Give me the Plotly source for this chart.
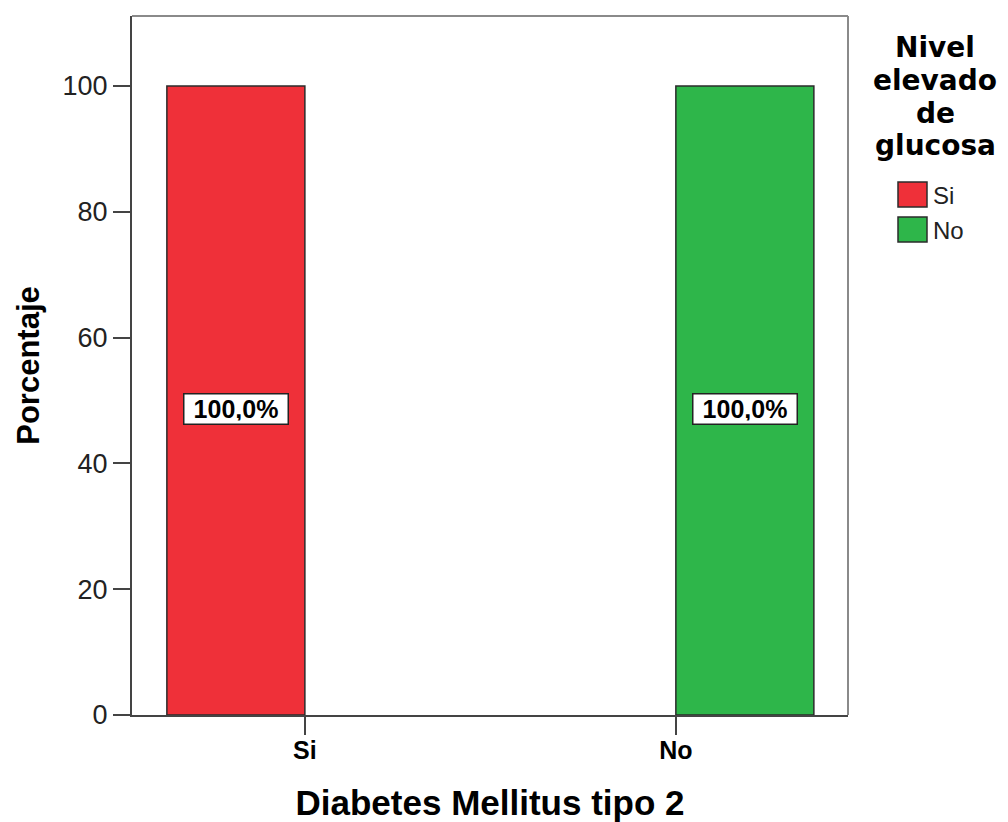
import plotly.graph_objects as go

# Data
categories = ["Si", "No"]                 # Diabetes Mellitus tipo 2
series_names = ["Si", "No"]               # Nivel elevado de glucosa
series_values = [[100.0, None], [None, 100.0]]
series_colors = ["#ef3039", "#2eb64a"]
y_ticks = [0, 20, 40, 60, 80, 100]
legend_title_lines = ["Nivel", "elevado", "de", "glucosa"]

W, H = 1008, 822
L, R, T, B = 132, 160, 16, 107
plot_w, plot_h = W - L - R, H - T - B


def px_x(x):
    return (x - L) / plot_w


def px_y(y):
    return (H - B - y) / plot_h


FONT = "Liberation Sans, Arial, sans-serif"
TITLE_FONT = "DejaVu Sans, Liberation Sans, sans-serif"
BARGAP = 0.256

fig = go.Figure()
for name, vals, col in zip(series_names, series_values, series_colors):
    fig.add_trace(go.Bar(
        x=categories, y=vals, name=name,
        marker=dict(color=col, line=dict(color="#2b2b2b", width=1.5)),
        showlegend=False,
    ))

# Boxed percentage labels in the middle of each bar
n = len(series_names)
slot = (1 - BARGAP) / n
for s, vals in enumerate(series_values):
    for i, v in enumerate(vals):
        if v is None:
            continue
        xc = i - (1 - BARGAP) / 2 + slot * (s + 0.5)
        fig.add_annotation(
            x=xc, y=v / 2, yshift=-8,
            text="<b>" + f"{v:.1f}".replace(".", ",") + "%</b>",
            showarrow=False, width=97, height=23,
            font=dict(family=FONT, size=25, color="black"),
            bgcolor="white", bordercolor="#222", borderwidth=1.5, borderpad=3,
        )

# Legend: title (one line per annotation) and swatches
for k, txt in enumerate(legend_title_lines):
    fig.add_annotation(
        xref="paper", yref="paper", x=px_x(935), y=px_y(47.5 + 32.8 * k),
        xanchor="center", yanchor="middle", text="<b>" + txt + "</b>",
        showarrow=False, font=dict(family=TITLE_FONT, size=28, color="black"),
    )
for k, (name, col) in enumerate(zip(series_names, series_colors)):
    y0 = 182 + k * 35
    fig.add_shape(type="rect", xref="paper", yref="paper",
                  x0=px_x(898), x1=px_x(927), y0=px_y(y0), y1=px_y(y0 + 25),
                  fillcolor=col, line=dict(color="#2b2b2b", width=1.5))
    fig.add_annotation(
        xref="paper", yref="paper", x=px_x(931), y=px_y(y0 + 13),
        xanchor="left", yanchor="middle", text=name, showarrow=False,
        font=dict(family=FONT, size=24, color="#222"),
    )

# Light frame on top and right of the plot area
fig.add_shape(type="line", xref="paper", yref="paper", x0=0, x1=1, y0=1, y1=1,
              line=dict(color="#8a8a8a", width=2))
fig.add_shape(type="line", xref="paper", yref="paper", x0=1, x1=1, y0=0, y1=1,
              line=dict(color="#8a8a8a", width=2))

fig.update_layout(
    width=W, height=H,
    margin=dict(l=L, r=R, t=T, b=B, autoexpand=False),
    paper_bgcolor="white", plot_bgcolor="white",
    barmode="group", bargap=BARGAP, bargroupgap=0,
    font=dict(family=FONT, color="#222"),
    xaxis=dict(
        type="category", range=[-0.466, 1.464], automargin=False,
        showline=True, linecolor="#444", linewidth=2,
        ticks="outside", ticklen=18, tickwidth=2, tickcolor="#444",
        ticklabelstandoff=-6,
        tickfont=dict(family=FONT, size=25, color="black"),
        ticktext=["<b>" + c + "</b>" for c in categories], tickvals=categories,
        showgrid=False, zeroline=False,
        title=dict(text="<b>Diabetes Mellitus tipo 2</b>", standoff=32,
                   font=dict(family=FONT, size=35, color="black")),
    ),
    yaxis=dict(
        range=[0, (H - B - T) / 6.29], automargin=False,
        tickvals=y_ticks,
        showline=True, linecolor="#444", linewidth=2,
        ticks="outside", ticklen=17, tickwidth=2, tickcolor="#444",
        tickfont=dict(family=FONT, size=27, color="#222"),
        showgrid=False, zeroline=False,
        title=dict(text="<b>Porcentaje</b>", standoff=14,
                   font=dict(family=FONT, size=31, color="black")),
    ),
)

fig.write_html("out.html")
